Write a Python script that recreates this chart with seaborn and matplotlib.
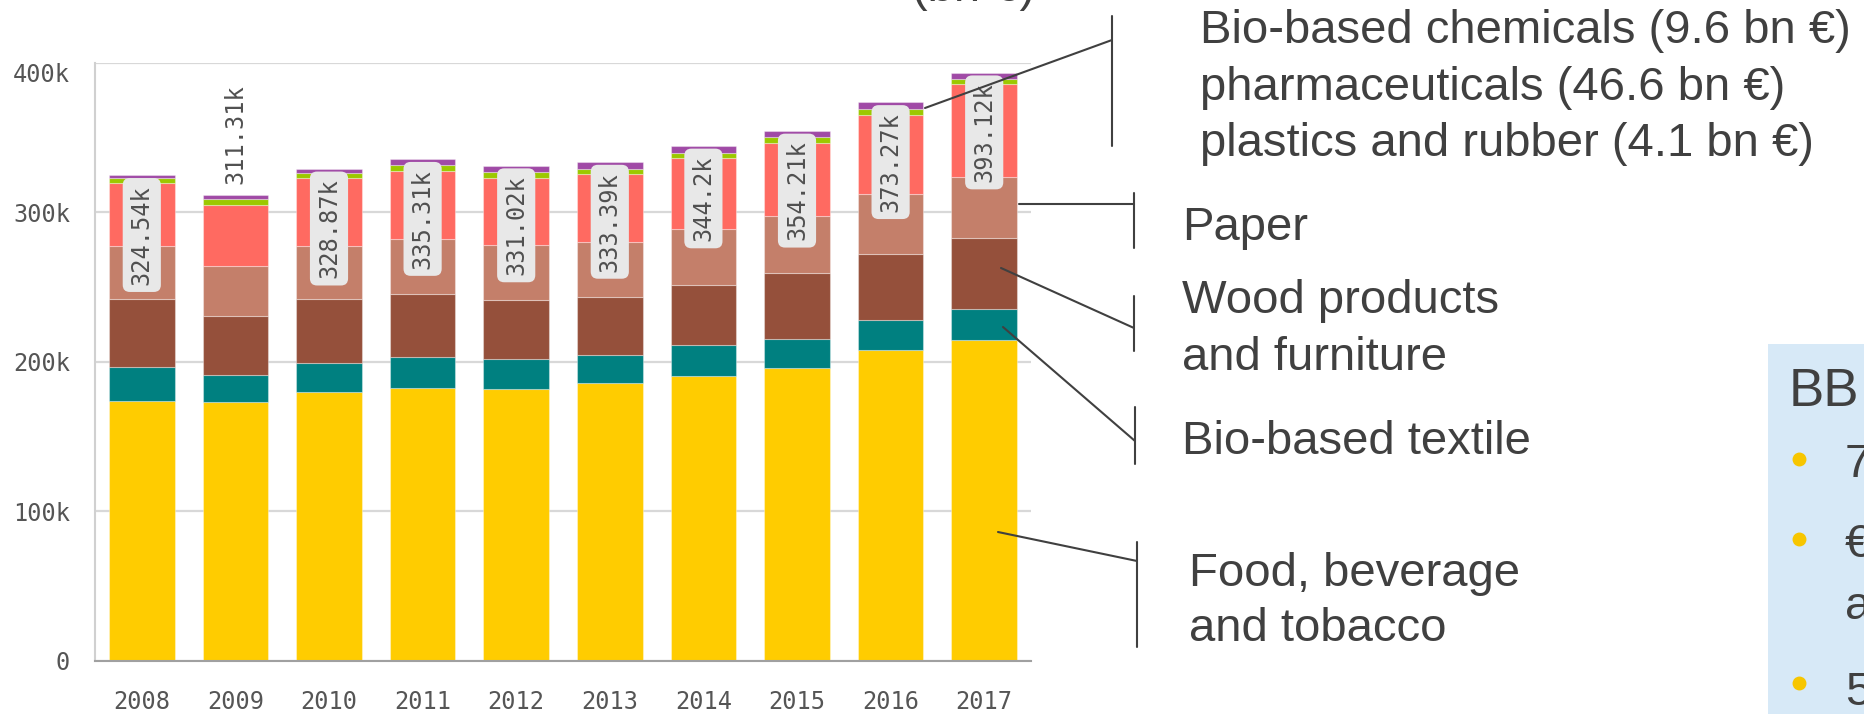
import numpy as np
import pandas as pd
import matplotlib
matplotlib.use("Agg")
import matplotlib.pyplot as plt
import seaborn as sns
from matplotlib.lines import Line2D
from matplotlib.patches import Rectangle

# dati (k €)
years = ["2008", "2009", "2010", "2011", "2012", "2013", "2014", "2015", "2016", "2017"]
food = [173.6, 172.8, 180.0, 182.4, 181.6, 185.6, 190.4, 196.0, 208.0, 214.6]
textile = [23.2, 18.4, 19.2, 20.8, 20.0, 19.2, 20.6, 19.5, 19.9, 20.7]
wood = [45.2, 39.4, 42.9, 42.1, 39.6, 38.7, 40.2, 43.5, 44.2, 47.5]
paper = [35.6, 33.7, 35.1, 37.0, 37.1, 36.3, 37.8, 38.6, 40.1, 41.0]
pharma = [41.8, 40.6, 45.5, 45.5, 44.8, 45.8, 47.0, 48.8, 52.6, 61.6]
plastics = [3.34, 4.01, 3.27, 3.51, 3.72, 3.39, 3.70, 3.51, 4.07, 3.72]
chemicals = [1.8, 2.4, 2.9, 4.0, 4.2, 4.4, 4.5, 4.3, 4.4, 4.0]
totals = [324.54, 311.31, 328.87, 335.31, 331.02, 333.39, 344.2, 354.21, 373.27, 393.12]

colors = ["#FFCC00", "#008080", "#95503B", "#C47F6A", "#FF6A61", "#9CC800", "#A04AA6"]
segments = [food, textile, wood, paper, pharma, plastics, chemicals]

y_ticks = [0, 100, 200, 300, 400]
y_tick_labels = ["0", "100k", "200k", "300k", "400k"]

W, H = 1865, 714
sns.set_style("white")
plt.rcParams['font.family'] = ['Liberation Sans', 'DejaVu Sans']

def fx(x):
    return x / W

def fy(y):
    return 1 - y / H

fig = plt.figure(figsize=(W / 100, H / 100), dpi=100)
ax = fig.add_axes([fx(95), fy(661), (1031 - 95) / W, (661 - 62.5) / H])

# barre impilate
bottom = np.zeros(len(years))
for vals, col in zip(segments, colors):
    sns.barplot(x=years, y=vals, color=col, saturation=1, width=0.7,
                bottom=bottom.copy(), errorbar=None, ax=ax,
                edgecolor=(1, 1, 1, 0.35), linewidth=0.8)
    bottom += np.array(vals)

ax.set_xlim(-0.5, len(years) - 0.5)
ax.set_ylim(0, 400)
ax.set_xlabel("")
ax.set_ylabel("")
ax.set_yticks(y_ticks)
ax.set_yticklabels(y_tick_labels)
mono = "DejaVu Sans Mono"
for lbl in ax.get_yticklabels() + ax.get_xticklabels():
    lbl.set_family(mono)
ax.get_yticklabels()[-1].set_va("top")
ax.tick_params(axis="y", length=13, width=1.5, color="#d0d0d0",
               labelsize=17, labelcolor="#555555", pad=5)
ax.tick_params(axis="x", length=0, labelsize=17, labelcolor="#555555", pad=21)
ax.yaxis.grid(True, color="#d8d8d8", lw=1.6)
ax.set_axisbelow(True)
for s in ["top", "right"]:
    ax.spines[s].set_visible(False)
ax.spines["left"].set_color("#d0d0d0")
ax.spines["left"].set_linewidth(1.5)
ax.spines["bottom"].set_color("#a0a0a0")
ax.spines["bottom"].set_linewidth(1.5)

# etichette dei totali
for i, t in enumerate(totals):
    s = "{:g}k".format(t)
    if years[i] == "2009":
        ax.text(i, t + 7.5, s, rotation=90, ha="center", va="bottom",
                family=mono, fontsize=17, color="#505050")
    else:
        ax.text(i, t - 6.5, s, rotation=90, ha="center", va="top",
                family=mono, fontsize=17, color="#505050",
                bbox=dict(boxstyle="round,pad=0.3,rounding_size=0.3",
                          fc="#e8e8e8", ec="none"))

# annotazioni a destra
tc = "#404040"
def seg(x0, y0, x1, y1):
    fig.add_artist(Line2D([fx(x0), fx(x1)], [fy(y0), fy(y1)],
                          transform=fig.transFigure, color=tc, lw=1.5))

ann_lines = [
    (1200, 43, "Bio-based chemicals (9.6 bn €)"),
    (1200, 100, "pharmaceuticals (46.6 bn €)"),
    (1200, 156, "plastics and rubber (4.1 bn €)"),
    (1182, 240, "Paper"),
    (1182, 313, "Wood products"),
    (1182, 370, "and furniture"),
    (1182, 454, "Bio-based textile"),
    (1189, 586, "Food, beverage"),
    (1189, 641, "and tobacco"),
]
for x, y, s in ann_lines:
    fig.text(fx(x), fy(y), s, fontsize=34, color=tc, va="baseline", ha="left")

seg(1112, 16, 1112, 146)
seg(925, 108, 1112, 40)
seg(1134, 193, 1134, 248)
seg(1019, 203.5, 1134, 203.5)
seg(1134, 296, 1134, 351)
seg(1001, 268, 1134, 328)
seg(1135, 407, 1135, 464)
seg(1003, 327, 1135, 441)
seg(1137, 542, 1137, 647)
seg(998, 532, 1137, 561)

# titolo tagliato in alto
fig.text(fx(912), fy(1), "(bn €)", fontsize=34, color=tc, va="baseline", ha="left")

# riquadro BB
fig.add_artist(Rectangle((fx(1768), 0), (W - 1768) / W, fy(344),
                         transform=fig.transFigure, fc="#d7e9f7", ec="none"))
fig.text(fx(1789), fy(406), "BB", fontsize=38, color=tc, va="baseline")
for y, s in [(477, "7"), (557, "€"), (619, "a"), (705, "5")]:
    fig.text(fx(1845), fy(y), s, fontsize=34, color=tc, va="baseline")
for y in [459, 539, 683]:
    fig.add_artist(Line2D([fx(1799)], [fy(y)], transform=fig.transFigure,
                          marker="o", markersize=9, color="#F7C600", lw=0))

fig.savefig("out.png", dpi=100)
